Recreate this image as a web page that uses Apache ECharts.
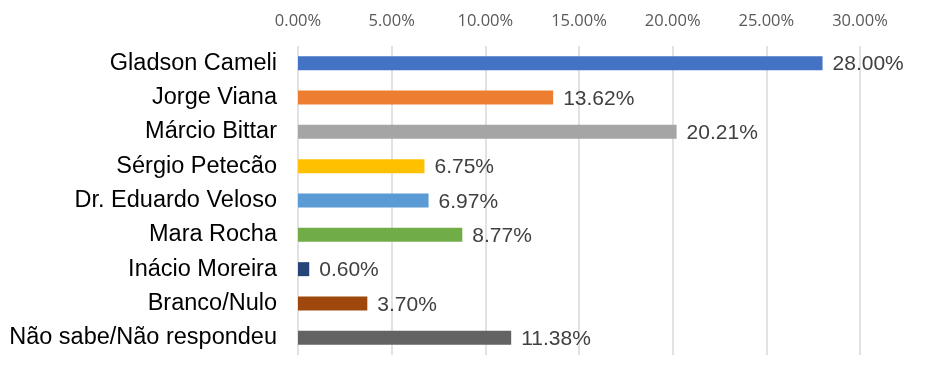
<!DOCTYPE html>
<html>
<head>
<meta charset="utf-8">
<script src="https://cdn.jsdelivr.net/npm/echarts@6/dist/echarts.min.js"></script>
<style>html,body{margin:0;padding:0;background:#fff;}#c{width:928px;height:380px;}</style>
</head>
<body>
<div id="c"></div>
<script>
var categories = ["Gladson Cameli", "Jorge Viana", "Márcio Bittar", "Sérgio Petecão", "Dr. Eduardo Veloso", "Mara Rocha", "Inácio Moreira", "Branco/Nulo", "Não sabe/Não respondeu"];
var values = [28.00, 13.62, 20.21, 6.75, 6.97, 8.77, 0.60, 3.70, 11.38];
var palette = ["#4472C4", "#ED7D31", "#A5A5A5", "#FFC000", "#5B9BD5", "#70AD47", "#264478", "#9E480E", "#636363"];
var xTicks = { min: 0, max: 30, interval: 5 };

var chart = echarts.init(document.getElementById('c'), null, { renderer: 'canvas' });
chart.setOption({
  animation: false,
  backgroundColor: '#fff',
  grid: { left: 298, right: 68, top: 46, bottom: 25, containLabel: false },
  xAxis: {
    type: 'value', position: 'top',
    min: xTicks.min, max: xTicks.max, interval: xTicks.interval,
    axisLine: { show: false }, axisTick: { show: false },
    splitLine: { show: true, lineStyle: { color: '#D9D9D9', width: 1.5 } },
    axisLabel: {
      margin: 16, color: '#595959', fontFamily: 'Open Sans', fontSize: 16.5,
      formatter: function (v) { return v.toFixed(2) + '%'; }
    }
  },
  yAxis: {
    type: 'category', inverse: true, data: categories,
    axisLine: { show: false }, axisTick: { show: false },
    axisLabel: { margin: 21, color: '#000', fontFamily: 'Liberation Sans, Arial', fontSize: 23.5 }
  },
  series: [{
    type: 'bar', barWidth: 14,
    data: values.map(function (v, i) { return { value: v, itemStyle: { color: palette[i] } }; }),
    label: {
      show: true, position: 'right', distance: 10, offset: [0, 1.5],
      color: '#404040', fontFamily: 'Liberation Sans, Arial', fontSize: 21,
      formatter: function (p) { return p.value.toFixed(2) + '%'; }
    }
  }]
});
</script>
</body>
</html>
